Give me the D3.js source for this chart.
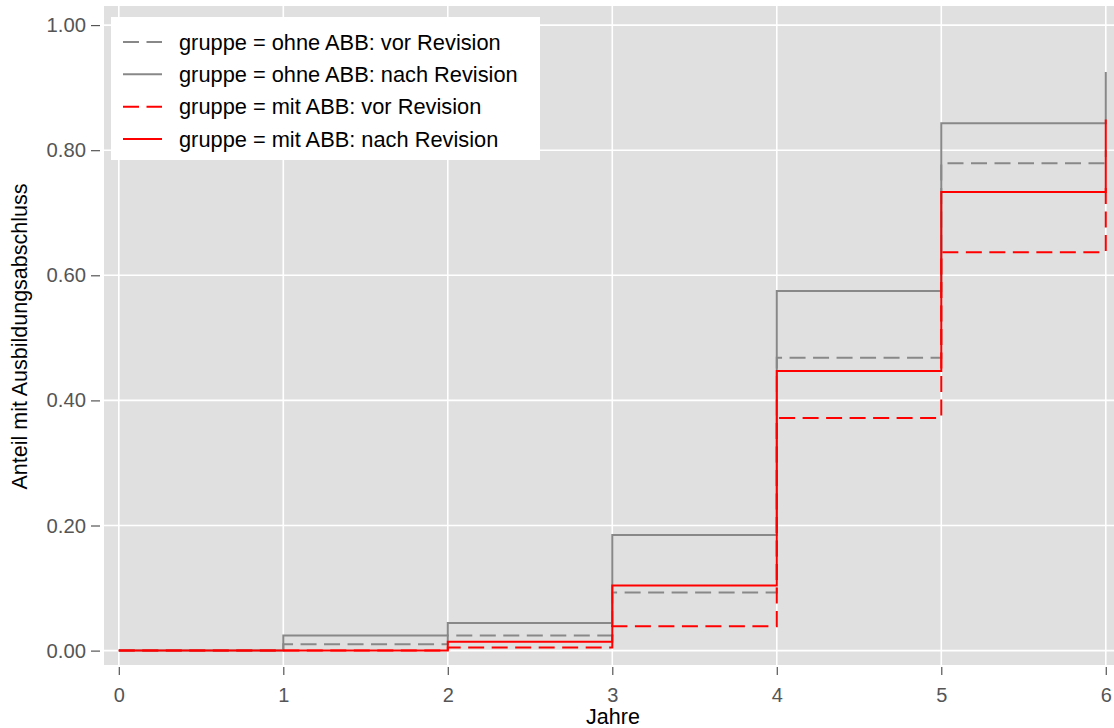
<!DOCTYPE html>
<html>
<head>
<meta charset="utf-8">
<script src="https://cdn.jsdelivr.net/npm/d3@7"></script>
<style>
  html, body { margin: 0; padding: 0; background: #ffffff; }
  svg { display: block; font-family: "Liberation Sans", Arial, sans-serif; }
</style>
</head>
<body>
<svg id="chart" width="1114" height="728"></svg>
<script>
// ---- data ----
const years = [0, 1, 2, 3, 4, 5, 6];
const ohneVor  = [0, 0.010, 0.024, 0.093, 0.468, 0.779, 0.80];
const ohneNach = [0, 0.024, 0.044, 0.185, 0.575, 0.843, 0.925];
const mitVor   = [0, 0, 0.005, 0.039, 0.372, 0.637, 0.74];
const mitNach  = [0, 0, 0.014, 0.104, 0.447, 0.733, 0.849];
const seriesNames = [
  "gruppe = ohne ABB: vor Revision",
  "gruppe = ohne ABB: nach Revision",
  "gruppe = mit ABB: vor Revision",
  "gruppe = mit ABB: nach Revision"
];
const xTicks = [0, 1, 2, 3, 4, 5, 6];
const yTicks = [0, 0.2, 0.4, 0.6, 0.8, 1.0];
const xTitle = "Jahre";
const yTitle = "Anteil mit Ausbildungsabschluss";

const series = [
  { name: seriesNames[0], values: ohneVor,  color: "#888888", dash: "16,7.5", width: 2 },
  { name: seriesNames[1], values: ohneNach, color: "#888888", dash: null,     width: 2 },
  { name: seriesNames[2], values: mitVor,   color: "#ff0000", dash: "16,7.5", width: 2 },
  { name: seriesNames[3], values: mitNach,  color: "#ff0000", dash: null,     width: 2 }
];

// ---- layout ----
const panel = { left: 104, right: 1114, top: 6, bottom: 665 };
const svg = d3.select("#chart");

const x = d3.scaleLinear().domain([-0.09, 6.05]).range([panel.left, panel.right]);
const y = d3.scaleLinear().domain([-0.023, 1.0305]).range([panel.bottom, panel.top]);

// panel background
svg.append("rect")
  .attr("x", panel.left).attr("y", panel.top)
  .attr("width", panel.right - panel.left).attr("height", panel.bottom - panel.top)
  .attr("fill", "#e0e0e0");

// grid
const grid = svg.append("g");
grid.selectAll("line.gx").data(xTicks).join("line")
  .attr("x1", d => x(d)).attr("x2", d => x(d))
  .attr("y1", panel.top).attr("y2", panel.bottom)
  .attr("stroke", "#ffffff").attr("stroke-width", 1.6);
grid.selectAll("line.gy").data(yTicks).join("line")
  .attr("y1", d => y(d)).attr("y2", d => y(d))
  .attr("x1", panel.left).attr("x2", panel.right)
  .attr("stroke", "#ffffff").attr("stroke-width", 1.6);

// lines
const line = d3.line().x((d, i) => x(years[i])).y(d => y(d)).curve(d3.curveStepAfter);
svg.append("clipPath").attr("id", "clip").append("rect")
  .attr("x", panel.left).attr("y", panel.top)
  .attr("width", panel.right - panel.left).attr("height", panel.bottom - panel.top);
const lines = svg.append("g").attr("clip-path", "url(#clip)");
series.forEach(s => {
  lines.append("path")
    .datum(s.values)
    .attr("d", line)
    .attr("fill", "none")
    .attr("stroke", s.color)
    .attr("stroke-width", s.width)
    .attr("stroke-dasharray", s.dash);
});

// axes
const axisColor = "#555555";
const xAxis = svg.append("g").attr("transform", `translate(0,${panel.bottom + 2})`)
  .call(d3.axisBottom(x).tickValues(xTicks).tickFormat(d3.format("d")).tickSize(8).tickPadding(13));
xAxis.select(".domain").remove();
xAxis.selectAll("line").attr("stroke", axisColor).attr("stroke-width", 1.2);
xAxis.selectAll("text").attr("fill", axisColor).style("font-size", "20px")
  .style("font-family", "Liberation Sans, Arial, sans-serif");

const yAxis = svg.append("g").attr("transform", `translate(${panel.left - 4},0)`)
  .call(d3.axisLeft(y).tickValues(yTicks).tickFormat(d3.format(".2f")).tickSize(9).tickPadding(5));
yAxis.select(".domain").remove();
yAxis.selectAll("line").attr("stroke", axisColor).attr("stroke-width", 1.2);
yAxis.selectAll("text").attr("fill", axisColor).style("font-size", "20.3px")
  .style("font-family", "Liberation Sans, Arial, sans-serif");

// titles
svg.append("text")
  .attr("x", (panel.left + panel.right) / 2 + 4).attr("y", 724)
  .attr("text-anchor", "middle").attr("fill", "#000")
  .style("font-size", "21.5px").text(xTitle);
svg.append("text")
  .attr("transform", `translate(27,${(panel.top + panel.bottom) / 2 + 1}) rotate(-90)`)
  .attr("text-anchor", "middle").attr("fill", "#000")
  .style("font-size", "21.5px").text(yTitle);

// legend
const lg = svg.append("g");
lg.append("rect").attr("x", 111).attr("y", 17).attr("width", 429).attr("height", 143).attr("fill", "#ffffff");
const rowY = d3.scaleLinear().domain([0, 3]).range([42, 139]);
series.forEach((s, i) => {
  lg.append("line")
    .attr("x1", 123).attr("x2", 162)
    .attr("y1", rowY(i)).attr("y2", rowY(i))
    .attr("stroke", s.color).attr("stroke-width", s.width)
    .attr("stroke-dasharray", s.dash);
  lg.append("text")
    .attr("x", 179).attr("y", rowY(i)).attr("dy", "0.35em")
    .attr("fill", "#000").style("font-size", "21.8px")
    .text(s.name);
});
</script>
</body>
</html>
